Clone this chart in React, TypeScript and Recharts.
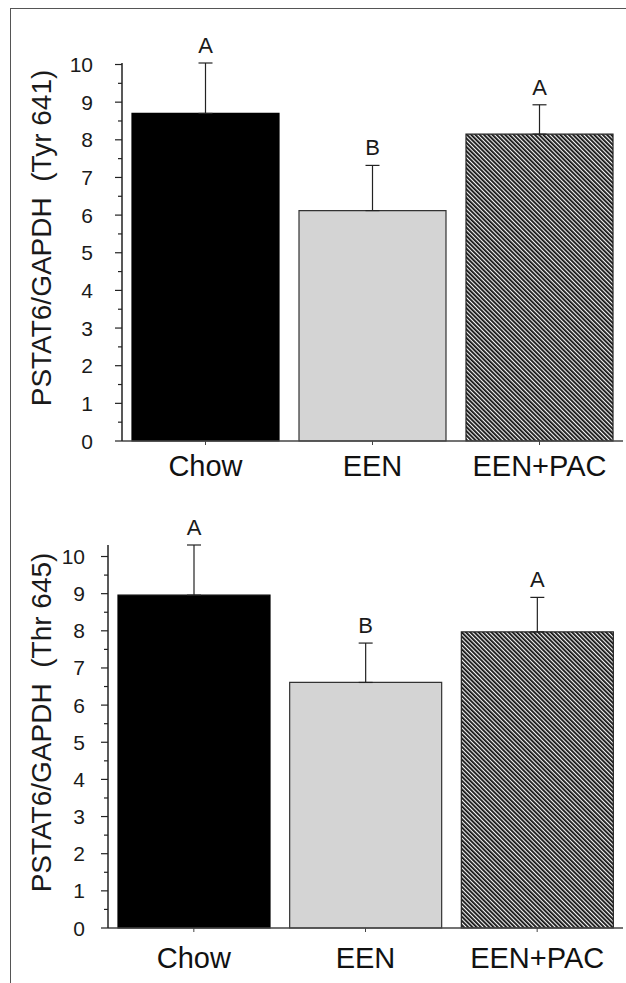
import { BarChart, Bar, XAxis, YAxis, ErrorBar, LabelList, Cell } from "recharts"

const groups = ["Chow", "EEN", "EEN+PAC"]

// PSTAT6/GAPDH (Tyr 641)
const tyrMeans = [8.7, 6.12, 8.15]
const tyrErrors = [1.34, 1.2, 0.78]
const tyrLetters = ["A", "B", "A"]

// PSTAT6/GAPDH (Thr 645)
const thrMeans = [8.96, 6.61, 7.97]
const thrErrors = [1.35, 1.06, 0.93]
const thrLetters = ["A", "B", "A"]

const yTicks = [0, 0.5, 1, 1.5, 2, 2.5, 3, 3.5, 4, 4.5, 5, 5.5, 6, 6.5, 7, 7.5, 8, 8.5, 9, 9.5, 10]

const FONT = '"Liberation Sans", Arial, sans-serif'

function makeYTick(tickLen: number, gap: number) {
  return (props: any) => {
    const { x, y, payload } = props
    const axisX = x + tickLen + gap
    const major = payload.value % 1 === 0
    return (
      <g>
        <line x1={axisX - (major ? tickLen : 4)} x2={axisX} y1={y} y2={y} stroke="#222" strokeWidth={1.2} />
        {major && (
          <text x={x} y={y} textAnchor="end" dominantBaseline="central" fontSize={21} fontFamily={FONT} fill="#1a1a1a">
            {payload.value}
          </text>
        )}
      </g>
    )
  }
}

function makeLetter(means: number[], errors: number[]) {
  return (props: any) => {
    const vb = props.viewBox ?? props
    const i = props.index
    const pxPerUnit = vb.height / means[i]
    const errTop = vb.y - errors[i] * pxPerUnit
    return (
      <text x={vb.x + vb.width / 2} y={errTop - 10} textAnchor="middle" fontSize={22} fontFamily={FONT} fill="#1a1a1a">
        {props.value}
      </text>
    )
  }
}

interface PanelProps {
  means: number[]
  errors: number[]
  letters: string[]
  yLabel: string
  id: string
  height: number
  top: number
  axisWidth: number
  tickGap: number
  xHeight: number
  xMargin: number
}

function Panel({ means, errors, letters, yLabel, id, height, top, axisWidth, tickGap, xHeight, xMargin }: PanelProps) {
  const data = groups.map((g, i) => ({ name: g, value: means[i], err: [0, errors[i]], letter: letters[i] }))
  const fills = ["#000000", "#d4d4d4", `url(#${id})`]
  const strokes = ["#000000", "#333333", "#222222"]

  return (
    <div style={{ position: "absolute", left: 0, top, width: 626, height }}>
      <BarChart width={626} height={height} data={data} margin={{ top: top === 0 ? 63 : 55, right: 3, bottom: 0, left: 0 }} barCategoryGap={10}>
        <defs>
          <pattern id={id} patternUnits="userSpaceOnUse" width={3} height={3} patternTransform="rotate(-45)">
            <rect x={0} y={0} width={3} height={3} fill="#f4f4f4" />
            <rect x={0} y={0} width={1.8} height={3} fill="#111111" />
          </pattern>
        </defs>
        <XAxis
          dataKey="name"
          height={xHeight}
          tickSize={4}
          tickMargin={xMargin}
          axisLine={{ stroke: "#444", strokeWidth: 1.5 }}
          tickLine={{ stroke: "#444" }}
          tick={{ fontSize: 29, fontFamily: FONT, fill: "#111" }}
        />
        <YAxis
          width={axisWidth}
          domain={[0, 10]}
          ticks={yTicks}
          interval={0}
          tickSize={7}
          tickMargin={tickGap}
          tickLine={false}
          axisLine={{ stroke: "#222", strokeWidth: 1.5 }}
          tick={makeYTick(7, tickGap)}
          label={{
            content: (p: any) => {
              const vb = p.viewBox
              const cy = vb.y + vb.height / 2 - 14
              return (
                <text
                  x={41}
                  y={cy}
                  transform={`rotate(-90 41 ${cy})`}
                  textAnchor="middle"
                  dominantBaseline="central"
                  fontSize={28}
                  fontFamily={FONT}
                  fill="#1a1a1a"
                  style={{ whiteSpace: "pre" }}
                >
                  {yLabel}
                </text>
              )
            },
          }}
        />
        <Bar dataKey="value" isAnimationActive={false} strokeWidth={1.2}>
          {data.map((d, i) => (
            <Cell key={d.name} fill={fills[i]} stroke={strokes[i]} />
          ))}
          <ErrorBar dataKey="err" width={7} stroke="#222" strokeWidth={1.2} direction="y" />
          <LabelList dataKey="letter" content={makeLetter(means, errors)} />
        </Bar>
      </BarChart>
    </div>
  )
}

export default function App() {
  return (
    <div style={{ position: "absolute", left: 0, top: 0, width: 626, height: 983, background: "#fff", overflow: "hidden" }}>
      <div
        style={{
          position: "absolute",
          left: 10,
          top: 8,
          width: 640,
          height: 1000,
          borderTop: "1.5px solid #555",
          borderLeft: "1.5px solid #555",
        }}
      />
      <Panel
        means={tyrMeans}
        errors={tyrErrors}
        letters={tyrLetters}
        yLabel="PSTAT6/GAPDH  (Tyr 641)"
        id="hatch-tyr"
        height={490}
        top={0}
        axisWidth={122}
        tickGap={22}
        xHeight={49}
        xMargin={10}
      />
      <Panel
        means={thrMeans}
        errors={thrErrors}
        letters={thrLetters}
        yLabel="PSTAT6/GAPDH  (Thr 645)"
        id="hatch-thr"
        height={493}
        top={490}
        axisWidth={108}
        tickGap={16}
        xHeight={55}
        xMargin={15}
      />
    </div>
  )
}
